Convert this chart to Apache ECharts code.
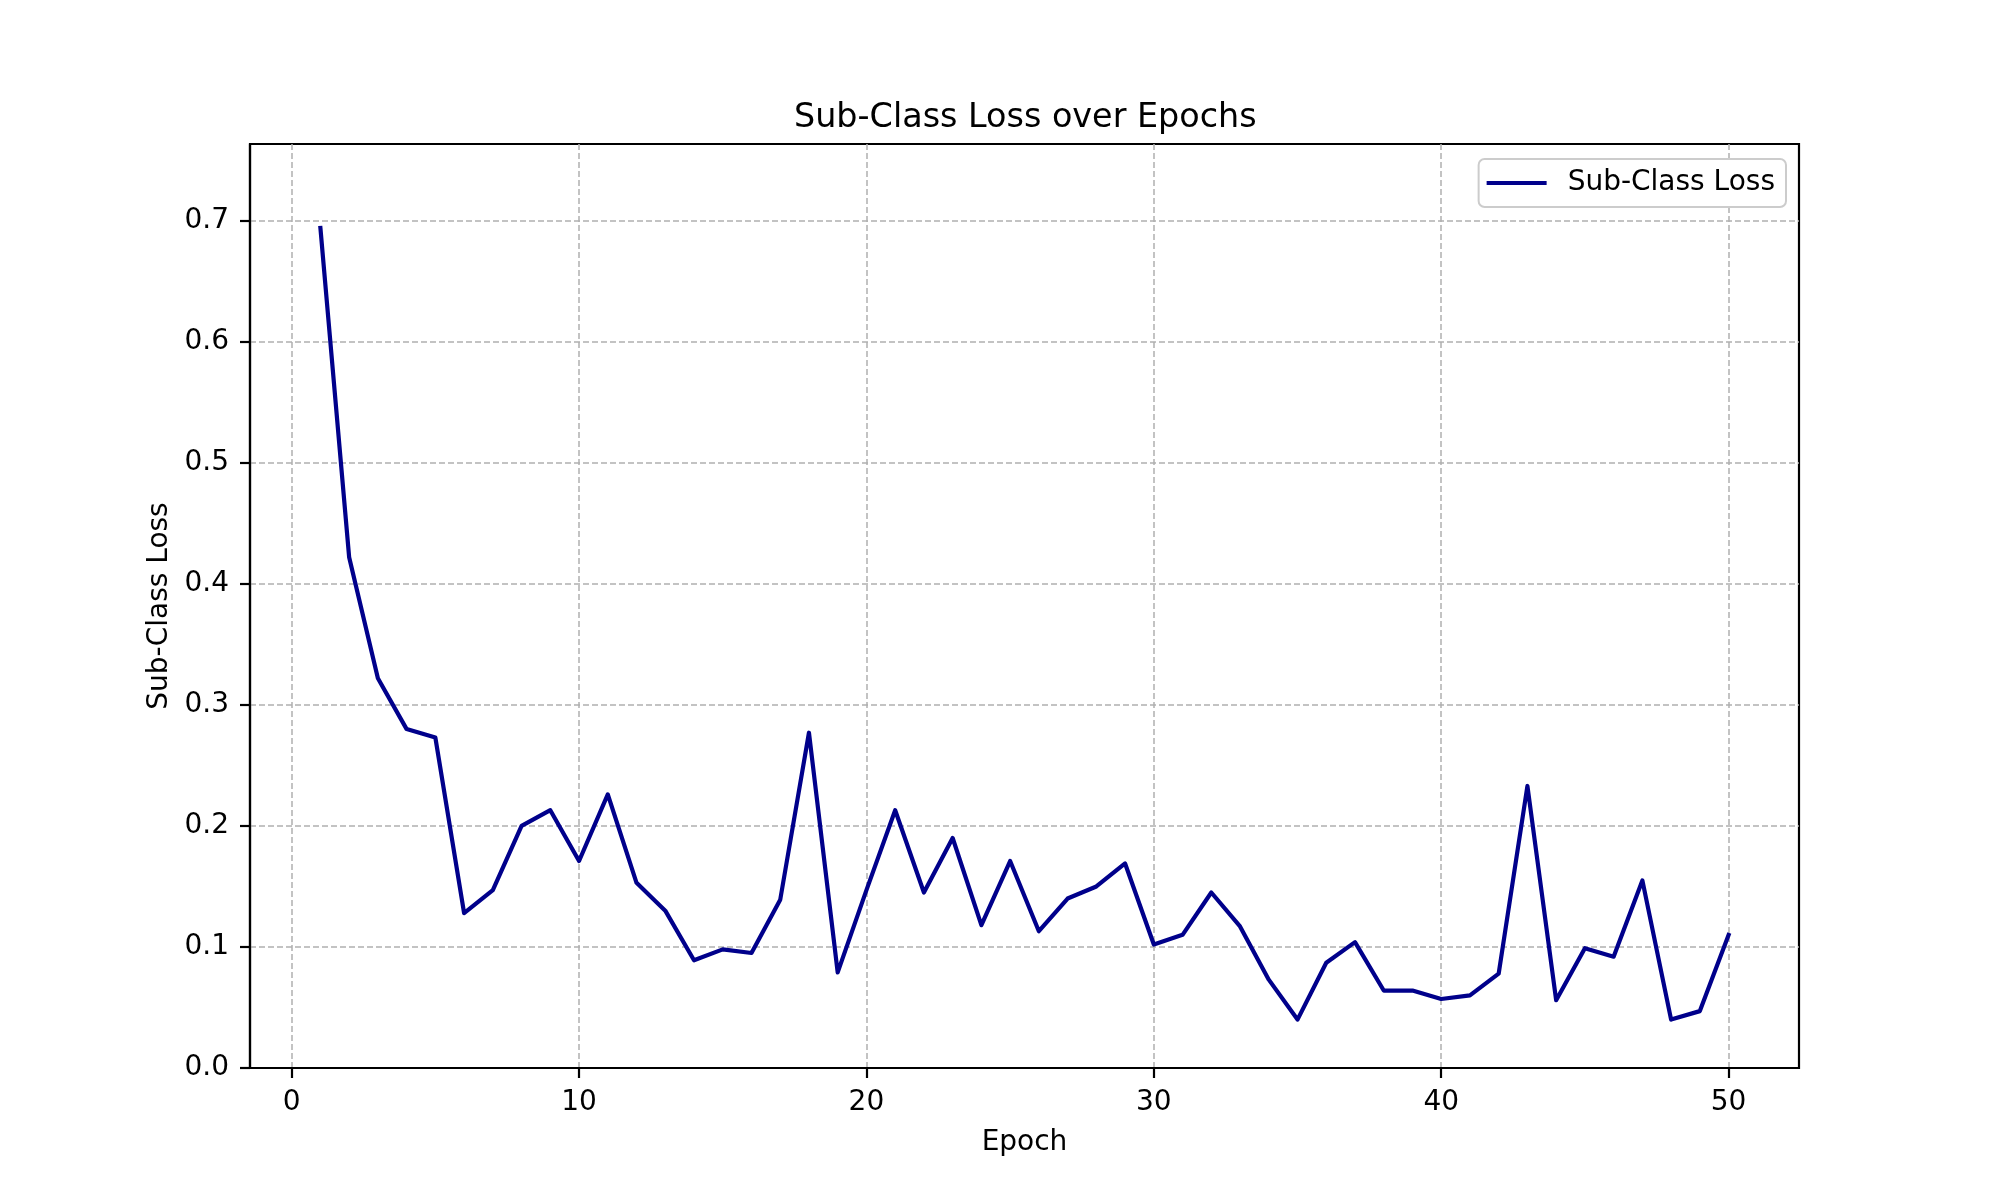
<!DOCTYPE html>
<html>
<head>
<meta charset="utf-8">
<script src="https://cdn.jsdelivr.net/npm/echarts@6/dist/echarts.min.js"></script>
<style>html,body{margin:0;padding:0;background:#fff;}#main{width:2000px;height:1200px;}</style>
</head>
<body>
<div id="main"></div>
<script>
const epochs = [1,2,3,4,5,6,7,8,9,10,11,12,13,14,15,16,17,18,19,20,21,22,23,24,25,26,27,28,29,30,31,32,33,34,35,36,37,38,39,40,41,42,43,44,45,46,47,48,49,50];
const subClassLoss = [0.694,0.422,0.322,0.280,0.273,0.128,0.147,0.200,0.213,0.171,
  0.226,0.153,0.130,0.089,0.098,0.095,0.139,0.277,0.079,0.147,
  0.213,0.145,0.190,0.118,0.171,0.113,0.140,0.150,0.169,0.102,
  0.110,0.145,0.117,0.073,0.040,0.087,0.104,0.064,0.064,0.057,
  0.060,0.078,0.233,0.056,0.099,0.092,0.155,0.040,0.047,0.110];
const xTicks = [0,10,20,30,40,50];
const yTicks = [0,0.1,0.2,0.3,0.4,0.5,0.6,0.7];
const titleText = 'Sub-Class Loss over Epochs';
const xName = 'Epoch';
const yName = 'Sub-Class Loss';
const seriesName = 'Sub-Class Loss';

const FONT = 'DejaVu Sans';
const chart = echarts.init(document.getElementById('main'), null, {renderer:'canvas'});
const gridLine = {show:true, lineStyle:{color:'#b0b0b0', width:1.5, type:[6,3]}};
chart.setOption({
  animation:false,
  backgroundColor:'#ffffff',
  title:{text:titleText, left:794, top:102, padding:0,
    textStyle:{fontFamily:FONT, fontSize:33.4, fontWeight:'normal', color:'#000'}},
  legend:{data:[seriesName], right:214, top:159, orient:'horizontal',
    icon:'rect', itemWidth:60, itemHeight:4,
    padding:[10,11,10,8], backgroundColor:'#fff', borderColor:'#cccccc', borderWidth:2, borderRadius:6,
    textStyle:{fontFamily:FONT, fontSize:28, color:'#000', padding:[0,0,0,16]}},
  grid:{left:250, right:201, top:144, bottom:132, show:true, borderColor:'#000', borderWidth:2.2, backgroundColor:'transparent'},
  xAxis:{type:'value', min:-1.45, max:52.45,
    name:xName, nameLocation:'middle', nameGap:61,
    nameTextStyle:{fontFamily:FONT, fontSize:28, color:'#000'},
    axisLine:{show:true, onZero:false, lineStyle:{color:'#000', width:2.2}},
    axisTick:{show:true, length:10, lineStyle:{color:'#000', width:2.2}, customValues:xTicks},
    axisLabel:{fontFamily:FONT, fontSize:28, color:'#000', margin:21, customValues:xTicks},
    splitLine:gridLine},
  yAxis:{type:'value', min:0, max:0.7634,
    name:yName, nameLocation:'middle', nameGap:75, nameRotate:90,
    nameTextStyle:{fontFamily:FONT, fontSize:28, color:'#000'},
    axisLine:{show:true, onZero:false, lineStyle:{color:'#000', width:2.2}},
    axisTick:{show:true, length:10, lineStyle:{color:'#000', width:2.2}, customValues:yTicks},
    axisLabel:{fontFamily:FONT, fontSize:28, color:'#000', margin:21, customValues:yTicks,
      formatter:function(v){return v.toFixed(1);}},
    splitLine:gridLine},
  series:[{name:seriesName, type:'line', symbol:'none',
    data:epochs.map((e,i)=>[e, subClassLoss[i]]),
    lineStyle:{color:'#00008b', width:4.2, cap:'square', join:'round'},
    itemStyle:{color:'#00008b'}}]
});
</script>
</body>
</html>
